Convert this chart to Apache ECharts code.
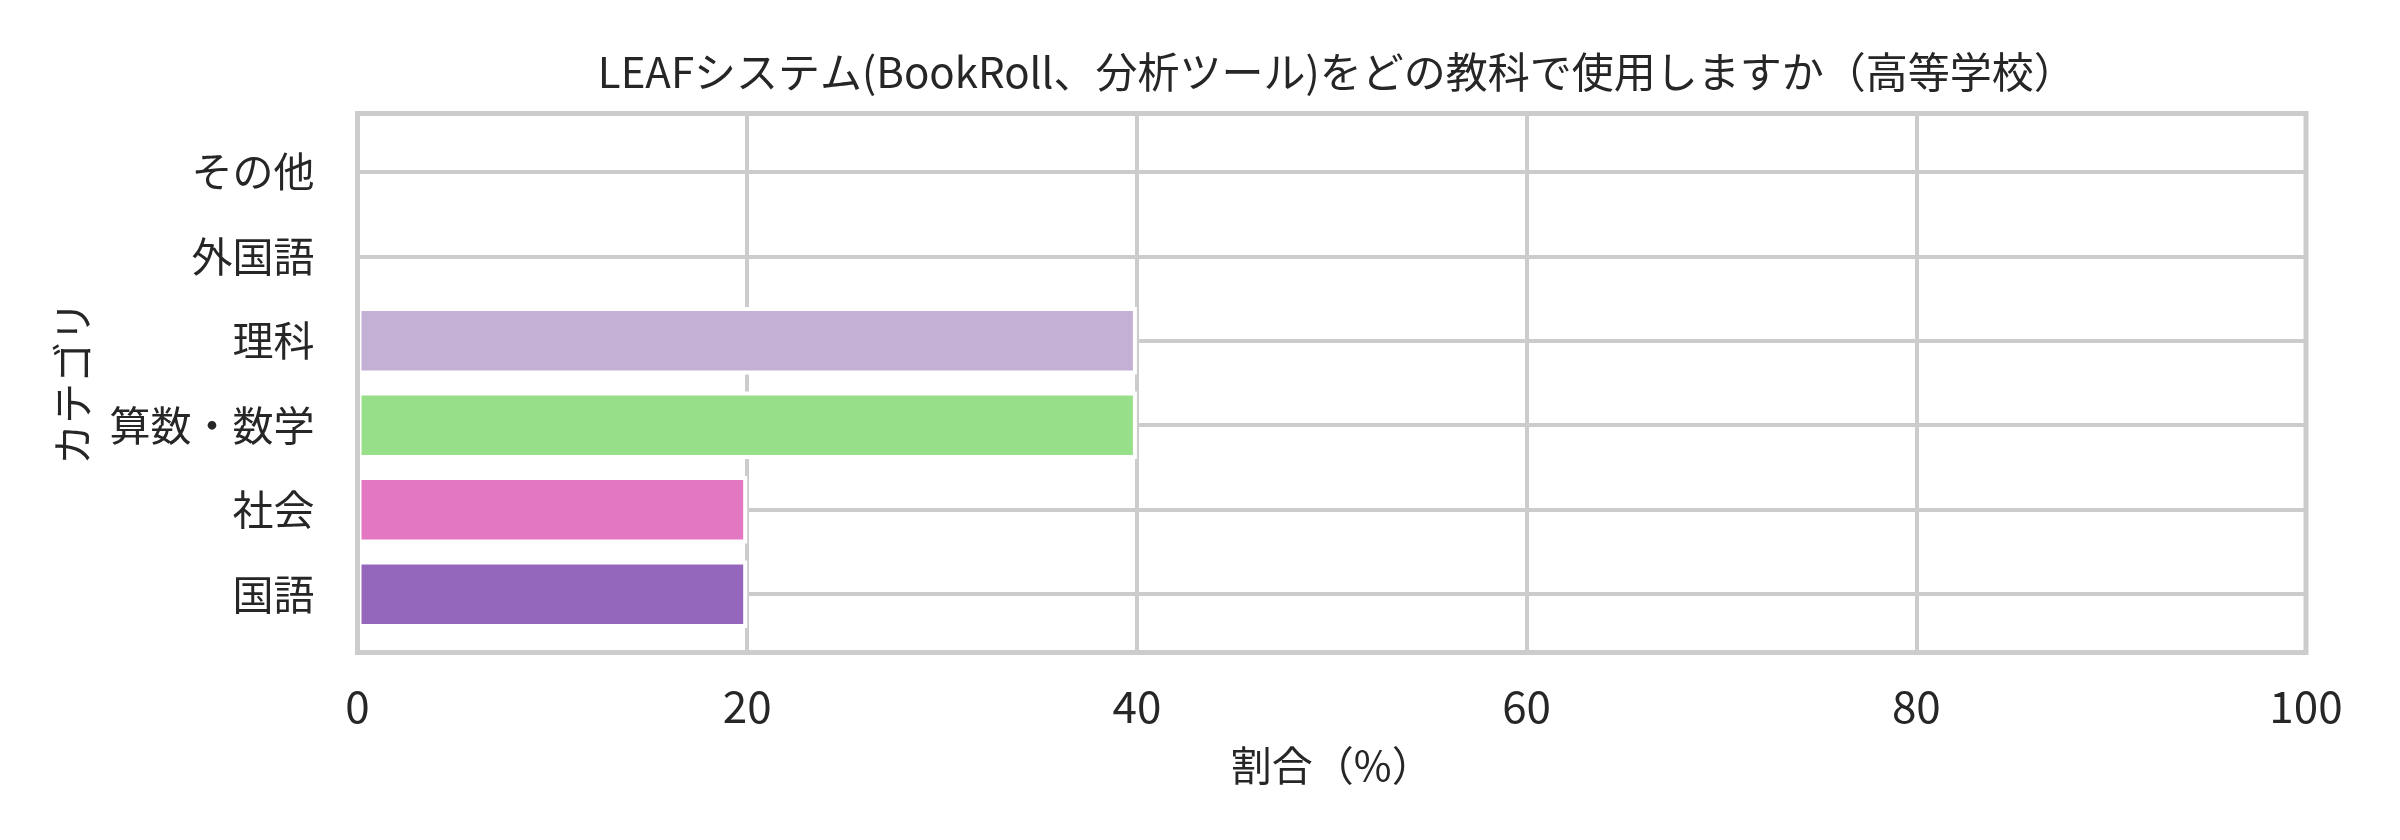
<!DOCTYPE html>
<html>
<head>
<meta charset="utf-8">
<script src="https://cdn.jsdelivr.net/npm/echarts@6/dist/echarts.min.js"></script>
<style>
html,body{margin:0;padding:0;background:#fff;}
#c{width:2400px;height:840px;}
</style>
</head>
<body>
<div id="c"></div>
<script>
// ---- data ----
const titleText = 'LEAFシステム(BookRoll、分析ツール)をどの教科で使用しますか（高等学校）';
const categories = ['国語', '社会', '算数・数学', '理科', '外国語', 'その他'];
const values = [20, 20, 40, 40, 0, 0];
const xAxisName = '割合（%）';
const yAxisName = 'カテゴリ';
const xMin = 0, xMax = 100, xStep = 20;

// ---- styles ----
const barColors = ['#9467bd', '#e377c2', '#98df8a', '#c5b0d5', '#ff9896', '#d62728'];
const FONT = '"Noto Sans CJK JP", "Noto Sans", sans-serif';
const TXT = '#262626';
const GRIDC = '#cccccc';

// frame geometry (pixels)
const L = 357.5, R = 2306, T = 113.5, B = 652.5;
const nCat = categories.length;
const pad = 0.69; // category-units padding outside outer centres
const unit = (B - T) / (nCat - 1 + 2 * pad);
const cTop = T + pad * unit;       // centre of last category
const cBot = B - pad * unit;       // centre of first category

const chart = echarts.init(document.getElementById('c'), null, {renderer: 'canvas'});
chart.setOption({
  backgroundColor: '#ffffff',
  animation: false,
  title: {
    text: titleText,
    left: (L + R) / 2,
    textAlign: 'center',
    top: 46,
    textStyle: {fontFamily: FONT, fontSize: 42, fontWeight: 'normal', color: TXT}
  },
  grid: [
    // 0: frame + vertical grid lines
    {left: L, right: 2400 - R, top: T, bottom: 840 - B, show: true,
     borderColor: GRIDC, borderWidth: 5, backgroundColor: 'transparent', z: 10},
    // 1: bars (category bands)
    {left: L, right: 2400 - R, top: cTop - unit / 2, bottom: 840 - (cBot + unit / 2)},
    // 2: horizontal grid lines at category centres
    {left: L, right: 2400 - R, top: cTop, bottom: 840 - cBot}
  ],
  xAxis: [
    {gridIndex: 0, type: 'value', min: xMin, max: xMax, interval: xStep,
     axisLine: {show: false}, axisTick: {show: false},
     splitLine: {show: true, lineStyle: {color: GRIDC, width: 4}},
     axisLabel: {fontFamily: FONT, fontSize: 44, color: TXT, margin: 32},
     name: xAxisName, nameLocation: 'middle', nameGap: 92,
     nameTextStyle: {fontFamily: FONT, fontSize: 41, color: TXT}},
    {gridIndex: 1, type: 'value', min: xMin, max: xMax, interval: xStep, show: false},
    {gridIndex: 2, type: 'value', min: xMin, max: xMax, interval: xStep, show: false}
  ],
  yAxis: [
    {gridIndex: 0, type: 'value', min: 0, max: 1, show: false, splitLine: {show: false}},
    {gridIndex: 1, type: 'category', data: categories,
     axisLine: {show: false}, axisTick: {show: false}, splitLine: {show: false},
     axisLabel: {fontFamily: FONT, fontSize: 41, color: TXT, margin: 43},
     name: yAxisName, nameLocation: 'middle', nameRotate: 90, nameGap: 265,
     nameTextStyle: {fontFamily: FONT, fontSize: 41, color: TXT}},
    {gridIndex: 2, type: 'value', min: 0, max: nCat - 1, interval: 1,
     axisLine: {show: false}, axisTick: {show: false}, axisLabel: {show: false},
     splitLine: {show: true, lineStyle: {color: GRIDC, width: 4}}}
  ],
  series: [{
    type: 'bar',
    xAxisIndex: 1, yAxisIndex: 1,
    barWidth: '80%',
    z: 3,
    data: values.map((v, i) => ({value: v, itemStyle: {color: barColors[i]}})),
    itemStyle: {borderColor: '#ffffff', borderWidth: 4}
  }]
});
</script>
</body>
</html>
